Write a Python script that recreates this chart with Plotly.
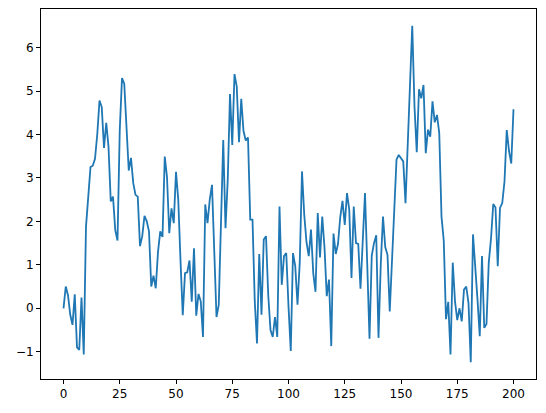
import plotly.graph_objects as go

x_values = list(range(201))
y_values = [
    0.0, 0.5, 0.3, -0.15, -0.38, 0.32, -0.9, -0.96, 0.25, -1.06,
    1.88, 2.7, 3.25, 3.28, 3.44, 4.0, 4.78, 4.63, 3.69, 4.27,
    3.72, 2.46, 2.57, 1.8, 1.56, 4.1, 5.3, 5.17, 4.26, 3.17,
    3.46, 2.88, 2.61, 2.57, 1.43, 1.66, 2.13, 2.0, 1.77, 0.5,
    0.75, 0.46, 1.3, 1.77, 1.64, 3.49, 3.02, 1.73, 2.3, 1.96,
    3.14, 2.5, 1.1, -0.16, 0.81, 0.83, 1.1, 0.15, 1.38, -0.17,
    0.33, 0.16, -0.66, 2.39, 1.96, 2.5, 2.84, 1.3, -0.2, 0.08,
    1.9, 3.87, 1.84, 2.96, 4.93, 3.76, 5.39, 5.1, 3.82, 4.82,
    4.08, 3.86, 3.93, 2.04, 2.04, 0.17, -0.81, 1.25, -0.15, 1.58,
    1.66, 0.3, -0.5, -0.66, -0.2, -0.66, 2.34, 0.54, 1.2, 1.27,
    0.05, -0.98, 1.27, 0.97, 0.08, 1.05, 3.15, 2.15, 1.52, 1.2,
    1.81, 0.81, 0.38, 2.19, 1.17, 2.11, 1.4, 0.28, 0.66, -0.87,
    1.72, 1.25, 1.48, 2.1, 2.47, 1.92, 2.65, 2.27, 0.7, 2.34,
    1.5, 1.48, 0.45, 1.7, 2.65, 1.0, -0.7, 1.21, 1.5, 1.68,
    -0.68, 1.0, 2.11, 1.41, 1.23, -0.07, 1.1, 2.5, 3.42, 3.53,
    3.46, 3.38, 2.42, 3.95, 5.3, 6.5, 4.64, 3.59, 5.04, 4.83,
    5.14, 3.57, 4.11, 3.95, 4.76, 4.28, 4.45, 4.03, 2.11, 1.56,
    -0.25, 0.15, -1.06, 1.05, 0.16, -0.27, 0.0, -0.3, 0.43, 0.5,
    0.12, -1.24, 1.7, 0.81, 0.2, -0.64, 1.2, -0.45, -0.36, 1.05,
    1.6, 2.4, 2.32, 0.97, 2.31, 2.42, 2.92, 4.1, 3.62, 3.33,
    4.58,
]
x_ticks = [0, 25, 50, 75, 100, 125, 150, 175, 200]
y_ticks = [-1, 0, 1, 2, 3, 4, 5, 6]

fig = go.Figure(
    go.Scatter(x=x_values, y=y_values, mode="lines",
               line=dict(color="#1f77b4", width=1.8))
)

ymin, ymax = min(y_values), max(y_values)
pad = (ymax - ymin) * 0.05
axis_common = dict(showgrid=False, zeroline=False, showline=True, mirror=True,
                   linecolor="black", linewidth=1, ticks="outside", ticklen=4,
                   tickwidth=1, tickcolor="black",
                   tickfont=dict(family="DejaVu Sans", size=12, color="black"))
fig.update_xaxes(range=[-10, 210], tickvals=x_ticks, **axis_common)
fig.update_yaxes(range=[ymin - pad, ymax + pad], tickvals=y_ticks, **axis_common)
fig.update_layout(width=546, height=413, margin=dict(l=33, r=18, t=1, b=42),
                  plot_bgcolor="white", paper_bgcolor="white", showlegend=False)
fig.write_html("out.html")
